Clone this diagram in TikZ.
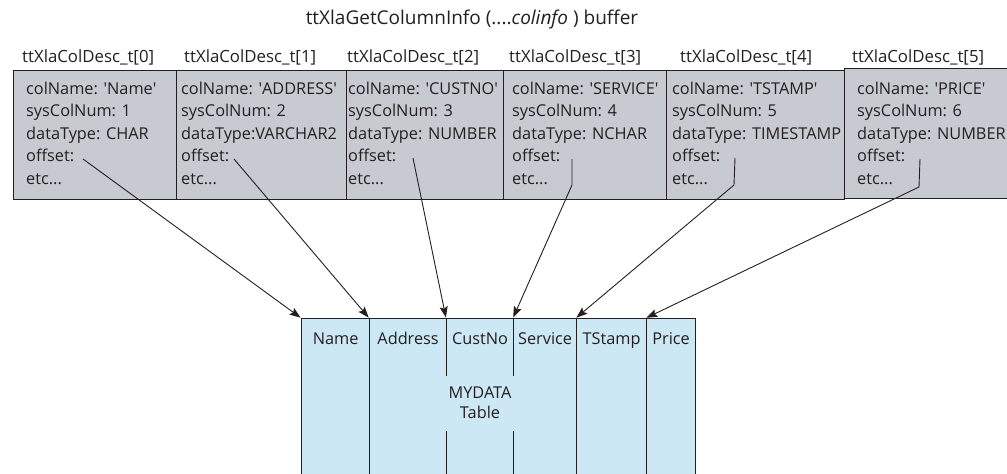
\documentclass[tikz,border=0pt]{standalone}
\usepackage{fontspec}
\setmainfont{Open Sans}
\usetikzlibrary{arrows.meta}
\definecolor{boxgrey}{RGB}{200,202,210}
\definecolor{tblue}{RGB}{204,232,244}
\definecolor{ink}{RGB}{35,31,32}
\newcommand{\q}{\textquotesingle}
\begin{document}
\begin{tikzpicture}[x=1pt,y=-1pt,
  font=\fontsize{16.3}{22.4}\selectfont,
  descbox/.style={draw=ink, line width=1pt, fill=boxgrey, anchor=north west, inner sep=0, minimum height=129pt},
  desctext/.style={anchor=north west, align=left, inner sep=0, text=ink},
  head/.style={anchor=west, inner sep=0, text=ink, font=\fontsize{16.8}{20}\selectfont},
  col/.style={draw=ink, line width=1.2pt, fill=tblue, anchor=north west, inner sep=0, minimum height=170pt},
  colname/.style={inner sep=0, text=ink, text height=11.5pt, text depth=3pt},
  link/.style={draw=ink, line width=0.9pt, shorten >=0.5pt, -{Stealth[length=11pt,width=8pt,inset=2pt]}}]
\useasboundingbox (0,0) rectangle (1007,474);
% title
\node[text=ink, font=\fontsize{19}{22}\selectfont] (title) at (472,20) {ttXlaGetColumnInfo (....\textit{colinfo} ) buffer};
% descriptor boxes
\node[descbox, minimum width=163pt] (b0) at (13,70) {};
\node[descbox, minimum width=170pt] (b1) at (176,70) {};
\node[descbox, minimum width=157pt] (b2) at (346,70) {};
\node[descbox, minimum width=163pt] (b3) at (503,70) {};
\node[descbox, minimum width=178pt] (b4) at (666,70) {};
\node[descbox, minimum width=163pt, minimum height=130pt] (b5) at (844,68) {};
% headers
\node[head] (h0) at (22,57) {ttXlaColDesc\_t[0]};
\node[head] (h1) at (184,57) {ttXlaColDesc\_t[1]};
\node[head] (h2) at (347,57) {ttXlaColDesc\_t[2]};
\node[head] (h3) at (509,57) {ttXlaColDesc\_t[3]};
\node[head] (h4) at (680,57) {ttXlaColDesc\_t[4]};
\node[head] (h5) at (852,57) {ttXlaColDesc\_t[5]};
% box texts
\node[desctext] (t0) at (26,82) {colName: \q Name\q\\sysColNum: 1\\dataType: CHAR\\offset:\\etc...};
\node[desctext] (t1) at (181,82) {colName: \q ADDRESS\q\\sysColNum: 2\\dataType:VARCHAR2\\offset:\\etc...};
\node[desctext] (t2) at (348,82) {colName: \q CUSTNO\q\\sysColNum: 3\\dataType: NUMBER\\offset:\\etc...};
\node[desctext] (t3) at (512,82) {colName: \q SERVICE\q\\sysColNum: 4\\dataType: NCHAR\\offset:\\etc...};
\node[desctext] (t4) at (672,82) {colName: \q TSTAMP\q\\sysColNum: 5\\dataType: TIMESTAMP\\offset:\\etc...};
\node[desctext] (t5) at (857,82) {colName: \q PRICE\q\\sysColNum: 6\\dataType: NUMBER\\offset:\\etc...};
% table columns
\node[col, minimum width=68pt] (c0) at (301,318) {};
\node[col, minimum width=77pt] (c1) at (369,318) {};
\node[col, minimum width=67pt] (c2) at (446,318) {};
\node[col, minimum width=63pt] (c3) at (513,318) {};
\node[col, minimum width=70pt] (c4) at (576,318) {};
\node[col, minimum width=49pt] (c5) at (646,318) {};
\node[colname] (n0) at ([yshift=-22pt]c0.north) {Name};
\node[colname] (n1) at ([yshift=-22pt]c1.north) {Address};
\node[colname] (n2) at ([yshift=-22pt]c2.north) {CustNo};
\node[colname] (n3) at ([yshift=-22pt]c3.north) {Service};
\node[colname] (n4) at ([yshift=-22pt]c4.north) {TStamp};
\node[colname] (n5) at ([yshift=-22pt]c5.north) {Price};
\node[fill=tblue, text=ink, align=center, inner sep=0, minimum width=70pt, minimum height=55pt,
      font=\fontsize{16.3}{20}\selectfont] (tbl) at (480,403) {MYDATA\\Table};
% arrow start points and bends
\coordinate (s0) at (83,159);
\coordinate (s1) at (234,159);
\coordinate (s2) at (413,158);
\coordinate (s3) at (572,159);
\coordinate (k3) at (572,185);
\coordinate (s4) at (735,158);
\coordinate (k4) at (734,185);
\coordinate (s5) at (920,159);
\coordinate (k5) at (919,187);
\draw[link] (s0) -- (c0.north west);
\draw[link] (s1) -- (c1.north west);
\draw[link] (s2) -- (c2.north west);
\draw[link] (s3) -- (k3) -- (c3.north west);
\draw[link] (s4) -- (k4) -- (c4.north west);
\draw[link] (s5) -- (k5) -- (c5.north west);
\end{tikzpicture}
\end{document}
